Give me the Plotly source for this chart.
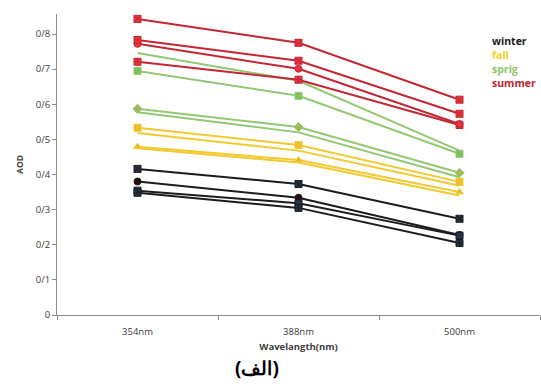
import plotly.graph_objects as go

wavelengths = ["354nm", "388nm", "500nm"]
y_tickvals = [0, 0.1, 0.2, 0.3, 0.4, 0.5, 0.6, 0.7, 0.8]
y_ticktext = ["0", "0/1", "0/2", "0/3", "0/4", "0/5", "0/6", "0/7", "0/8"]

# AOD per station, grouped by season
summer_1 = [0.843, 0.775, 0.613]
summer_2 = [0.783, 0.724, 0.573]
summer_3 = [0.772, 0.701, 0.544]
summer_4 = [0.721, 0.670, 0.541]

spring_1 = [0.746, 0.667, 0.468]
spring_2 = [0.695, 0.624, 0.459]
spring_3 = [0.587, 0.535, 0.405]
spring_4 = [0.577, 0.520, 0.392]

fall_1 = [0.533, 0.484, 0.379]
fall_2 = [0.518, 0.468, 0.368]
fall_3 = [0.479, 0.441, 0.350]
fall_4 = [0.475, 0.434, 0.340]

winter_1 = [0.416, 0.373, 0.274]
winter_2 = [0.380, 0.334, 0.228]
winter_3 = [0.354, 0.318, 0.226]
winter_4 = [0.348, 0.305, 0.205]

season_names = ["winter", "fall", "sprig", "summer"]
season_colors = ["#1a1a1a", "#f2cf1d", "#8cc56a", "#c0232f"]

RED_L, RED_M = "#c42633", "#e8343c"
GRN_L, GRN_M = "#93c872", "#7cc15c"
YEL_L, YEL_M = "#f2c930", "#e9b92e"
BLK_L, BLK_M = "#1c1c1c", "#22344a"

series = [
    (winter_1, BLK_L, BLK_M, "square-x"),
    (winter_2, BLK_L, "#2a0f0f", "circle"),
    (winter_3, BLK_L, BLK_M, "square"),
    (winter_4, BLK_L, BLK_M, "square-cross"),
    (fall_1, YEL_L, YEL_M, "square-x"),
    (fall_2, YEL_L, YEL_M, None),
    (fall_3, YEL_L, YEL_M, "triangle-up"),
    (fall_4, YEL_L, YEL_M, None),
    (spring_1, GRN_L, GRN_M, None),
    (spring_2, GRN_L, GRN_M, "square"),
    (spring_3, GRN_L, "#a3b858", "diamond"),
    (spring_4, GRN_L, "#a3b858", None),
    (summer_4, RED_L, RED_M, "square-cross"),
    (summer_3, RED_L, RED_M, "circle"),
    (summer_2, RED_L, RED_M, "square-x"),
    (summer_1, RED_L, RED_M, "square-x"),
]

fig = go.Figure()
for vals, lc, mc, sym in series:
    if sym is None:
        fig.add_trace(go.Scatter(
            x=wavelengths, y=vals, mode="lines",
            line=dict(color=lc, width=2), showlegend=False, hoverinfo="skip"))
    else:
        fig.add_trace(go.Scatter(
            x=wavelengths, y=vals, mode="lines+markers",
            line=dict(color=lc, width=2),
            marker=dict(symbol=sym, size=7, color=mc,
                        line=dict(color=lc, width=1)),
            showlegend=False, hoverinfo="skip"))

# season labels on the right of the plot area
legend_y = [0.910, 0.864, 0.817, 0.771]
for name, col, yy in zip(season_names, season_colors, legend_y):
    fig.add_annotation(
        x=0.896, y=yy, xref="paper", yref="paper",
        text="<b>%s</b>" % name, showarrow=False, xanchor="left",
        yanchor="middle",
        font=dict(family="Open Sans", size=10.5, color=col))

fig.update_layout(
    width=541, height=388,
    margin=dict(l=57, r=1, t=14, b=73),
    paper_bgcolor="white", plot_bgcolor="white",
    font=dict(family="Open Sans", size=9.5, color="#404040"),
    xaxis=dict(
        type="category", range=[-0.5, 2.5],
        showgrid=False, zeroline=False,
        showline=True, linecolor="#8c8c8c", linewidth=1,
        ticks="outside", ticklen=4, tickcolor="#8c8c8c",
        tickson="boundaries", ticklabelstandoff=8,
        tickfont=dict(family="Open Sans", size=9.5, color="#404040"),
        title=dict(text="<b>Wavelangth(nm)</b>",
                   font=dict(family="Open Sans", size=9.5, color="#404040"),
                   standoff=5),
    ),
    yaxis=dict(
        range=[0, 0.857], tickvals=y_tickvals, ticktext=y_ticktext,
        showgrid=False, zeroline=False,
        showline=True, linecolor="#8c8c8c", linewidth=1,
        ticks="outside", ticklen=4, tickcolor="#8c8c8c",
        tickfont=dict(family="Open Sans", size=9.5, color="#404040"),
        title=dict(text="<b>AOD</b>",
                   font=dict(family="Open Sans", size=8.5, color="#404040"),
                   standoff=10),
    ),
)

fig.add_annotation(
    x=0.414, y=-0.175, xref="paper", yref="paper", text="<b>(الف)</b>",
    showarrow=False, xanchor="center", yanchor="middle",
    font=dict(family="Noto Sans", size=19, color="#000000"))

fig.write_html("out.html")
